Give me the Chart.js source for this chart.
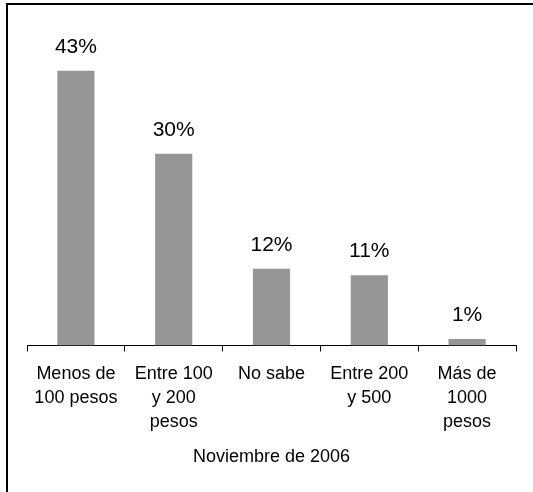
<!DOCTYPE html>
<html>
<head>
<meta charset="utf-8">
<script src="https://cdn.jsdelivr.net/npm/chart.js@4.4.0/dist/chart.umd.min.js"></script>
<style>
  body { margin: 0; background: #fff; }
  #wrap { position: relative; width: 533px; height: 492px; overflow: hidden; }
  #frame { position: absolute; left: 6px; top: 3px; width: 600px; height: 600px;
           border-left: 2px solid #000; border-top: 2px solid #000; }
  canvas { position: absolute; left: 0; top: 0; }
</style>
</head>
<body>
<div id="wrap">
  <div id="frame"></div>
  <canvas id="myChart" width="533" height="492"></canvas>
</div>
<script>
// data
var categories = [
  ["Menos de", "100 pesos"],
  ["Entre 100", "y 200", "pesos"],
  "No sabe",
  ["Entre 200", "y 500"],
  ["Más de", "1000", "pesos"],
];
var values = [43, 30, 12, 11, 1];
var axisTitle = "Noviembre de 2006";

// labels above each bar
var barLabels = {
  id: "barLabels",
  afterDatasetsDraw: function (chart) {
    var ctx = chart.ctx;
    var meta = chart.getDatasetMeta(0);
    ctx.save();
    ctx.font = "21px 'Liberation Sans', Arial, sans-serif";
    ctx.fillStyle = "#000";
    ctx.textAlign = "center";
    ctx.textBaseline = "alphabetic";
    meta.data.forEach(function (bar, i) {
      ctx.fillText(values[i] + "%", bar.x, bar.y - 18);
    });
    ctx.restore();
  },
};

var ctx = document.getElementById("myChart").getContext("2d");
var myChart = new Chart(ctx, {
  type: "bar",
  data: {
    labels: categories,
    datasets: [
      {
        data: values,
        backgroundColor: "#969696",
        borderWidth: 0,
        categoryPercentage: 1,
        barPercentage: 0.38,
      },
    ],
  },
  options: {
    responsive: false,
    animation: false,
    layout: { padding: { left: 27, right: 17, top: 26, bottom: 24 } },
    plugins: { legend: { display: false }, tooltip: { enabled: false } },
    scales: {
      x: {
        grid: {
          display: true,
          drawOnChartArea: false,
          drawTicks: true,
          tickLength: 6,
          color: "#000",
          offset: true,
        },
        border: { display: true, color: "#000", width: 1 },
        ticks: {
          color: "#000",
          padding: 10,
          maxRotation: 0,
          autoSkip: false,
          font: { family: "'Liberation Sans', Arial, sans-serif", size: 18, lineHeight: 1.35 },
        },
        title: {
          display: true,
          text: axisTitle,
          color: "#000",
          padding: { top: 2, bottom: 0 },
          font: { family: "'Liberation Sans', Arial, sans-serif", size: 18 },
        },
      },
      y: { display: false, min: 0, max: 50 },
    },
  },
  plugins: [barLabels],
});
</script>
</body>
</html>
